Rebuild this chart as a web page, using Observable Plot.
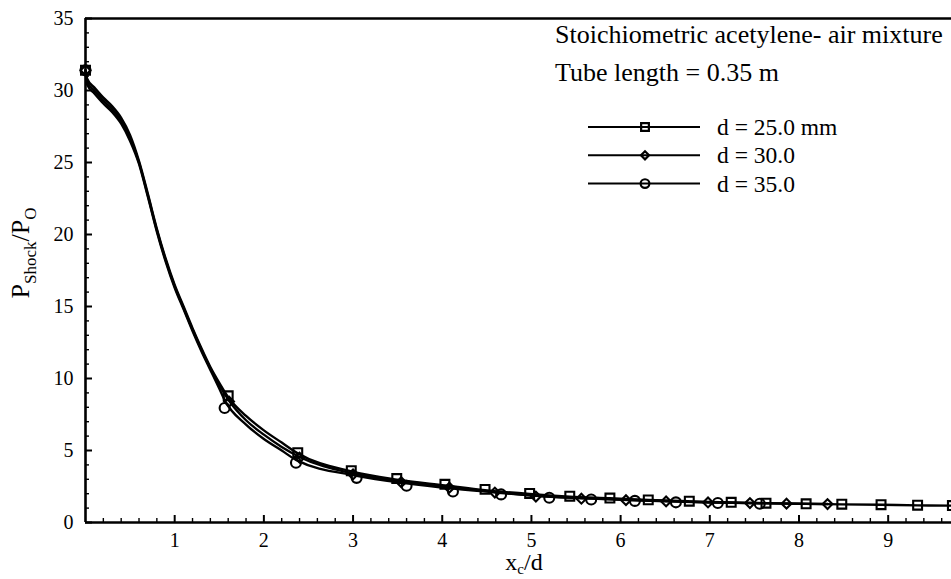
<!DOCTYPE html>
<html><head><meta charset="utf-8">
<script src="https://cdn.jsdelivr.net/npm/d3@7"></script>
<script src="https://cdn.jsdelivr.net/npm/@observablehq/plot@0.6"></script>
<style>body{margin:0;background:#fff}#chart{width:951px;height:579px;overflow:hidden}
#chart svg text{font-family:"Liberation Serif","DejaVu Serif",serif !important}</style>
</head><body><div id="chart"></div>
<script>
// ---------- data ----------
const seriesNames = ["d = 25.0 mm", "d = 30.0", "d = 35.0"];
const seriesSymbols = ["square", "diamond2", "circle"];
const annotationLines = ["Stoichiometric acetylene- air mixture", "Tube length = 0.35 m"];

// line traces
const lineX25 = [0, 0.02, 0.1, 0.2, 0.3, 0.4, 0.5, 0.6, 0.7, 0.8, 0.9, 1.0, 1.1, 1.2, 1.3, 1.4, 1.5, 1.6, 1.8, 2.0, 2.2, 2.38, 2.98, 3.49, 4.03, 4.48, 4.98, 5.43, 5.88, 6.31, 6.77, 7.24, 7.63, 8.08, 8.48, 8.92, 9.33, 9.72];
const lineY25 = [31.4, 30.8, 30.2, 29.5, 28.9, 28.1, 26.9, 25.1, 22.8, 20.4, 18.3, 16.5, 15.0, 13.5, 12.1, 10.8, 9.7, 8.7, 7.4, 6.4, 5.55, 4.8, 3.55, 2.98, 2.58, 2.25, 1.98, 1.8, 1.68, 1.56, 1.47, 1.39, 1.33, 1.29, 1.26, 1.23, 1.19, 1.17];
const lineX30 = [0, 0.02, 0.1, 0.2, 0.3, 0.4, 0.5, 0.6, 0.7, 0.8, 0.9, 1.0, 1.1, 1.2, 1.3, 1.4, 1.5, 1.61, 1.8, 2.0, 2.2, 2.40, 3.00, 3.54, 4.08, 4.59, 5.05, 5.56, 6.06, 6.51, 6.98, 7.45, 7.86, 8.32];
const lineY30 = [31.4, 30.6, 30.0, 29.3, 28.7, 27.9, 26.7, 25.0, 22.7, 20.3, 18.2, 16.4, 14.9, 13.4, 12.0, 10.7, 9.55, 8.45, 7.1, 6.1, 5.25, 4.55, 3.4, 2.85, 2.47, 2.12, 1.86, 1.7, 1.58, 1.49, 1.41, 1.36, 1.32, 1.28];
const lineX35 = [0, 0.02, 0.1, 0.2, 0.3, 0.4, 0.5, 0.6, 0.7, 0.8, 0.9, 1.0, 1.1, 1.2, 1.3, 1.4, 1.5, 1.56, 1.8, 2.0, 2.2, 2.36, 3.04, 3.60, 4.12, 4.66, 5.20, 5.67, 6.16, 6.62, 7.09, 7.56];
const lineY35 = [31.4, 30.4, 29.8, 29.1, 28.5, 27.7, 26.5, 24.9, 22.6, 20.2, 18.1, 16.3, 14.8, 13.3, 11.9, 10.6, 9.3, 8.5, 6.8, 5.8, 5.0, 4.35, 3.25, 2.72, 2.35, 2.05, 1.8, 1.66, 1.55, 1.45, 1.38, 1.33];

// symbol positions
const markX25 = [0, 1.60, 2.38, 2.98, 3.49, 4.03, 4.48, 4.98, 5.43, 5.88, 6.31, 6.77, 7.24, 7.63, 8.08, 8.48, 8.92, 9.33, 9.72];
const markY25 = [31.4, 8.8, 4.85, 3.6, 3.05, 2.65, 2.3, 2.02, 1.83, 1.7, 1.57, 1.48, 1.4, 1.34, 1.30, 1.27, 1.24, 1.20, 1.18];
const markX30 = [0, 1.61, 2.40, 3.00, 3.54, 4.08, 4.59, 5.05, 5.56, 6.06, 6.51, 6.98, 7.45, 7.86, 8.32];
const markY30 = [31.4, 8.4, 4.5, 3.35, 2.8, 2.42, 2.08, 1.8, 1.65, 1.55, 1.46, 1.39, 1.35, 1.31, 1.28];
const markX35 = [0, 1.56, 2.36, 3.04, 3.60, 4.12, 4.66, 5.20, 5.67, 6.16, 6.62, 7.09, 7.56];
const markY35 = [31.4, 7.95, 4.15, 3.1, 2.55, 2.15, 1.95, 1.72, 1.6, 1.5, 1.4, 1.35, 1.3];

const xTickLabels = [1, 2, 3, 4, 5, 6, 7, 8, 9];
const yTickLabels = [0, 5, 10, 15, 20, 25, 30, 35];

// ---------- build ----------
const zip = (xs, ys) => xs.map((x, i) => ({x, y: ys[i]}));
const lines = [zip(lineX25, lineY25), zip(lineX30, lineY30), zip(lineX35, lineY35)];
const marks = [zip(markX25, markY25), zip(markX30, markY30), zip(markX35, markY35)];

const W = 951, H = 579, mL = 85, mR = 0, mT = 18, mB = 57;
const xDom = [0, 9.71], yDom = [0, 35];
const pxX = (W - mL - mR) / (xDom[1] - xDom[0]);
const pxY = (H - mT - mB) / (yDom[1] - yDom[0]);
const xMinor = d3.range(1, 49).map(i => i * 0.2).filter(v => Math.abs(v - Math.round(v)) > 1e-6);
const yMinor = d3.range(1, 35).filter(v => v % 5 !== 0);
const font = "Liberation Serif, DejaVu Serif, serif";

const plot = Plot.plot({
  width: W, height: H,
  marginLeft: mL, marginRight: mR, marginTop: mT, marginBottom: mB,
  x: {domain: xDom},
  y: {domain: yDom},
  style: {fontFamily: font, background: "white", color: "black", overflow: "hidden"},
  marks: [
    // inward ticks
    Plot.ruleX(xTickLabels, {y1: 0, y2: 7 / pxY, strokeWidth: 2, stroke: "black"}),
    Plot.ruleX(xMinor, {y1: 0, y2: 4 / pxY, strokeWidth: 1.4, stroke: "black"}),
    Plot.ruleY(yTickLabels, {x1: 0, x2: 7 / pxX, strokeWidth: 2, stroke: "black"}),
    Plot.ruleY(yMinor, {x1: 0, x2: 4 / pxX, strokeWidth: 1.4, stroke: "black"}),
    // tick labels
    Plot.axisX({ticks: xTickLabels, tickSize: 0, tickPadding: 10, label: null, fontSize: 20, tickFormat: d => String(d)}),
    Plot.axisY({ticks: yTickLabels, tickSize: 0, tickPadding: 12, label: null, fontSize: 20, tickFormat: d => String(d)}),
    // frame
    Plot.ruleX([0], {stroke: "black", strokeWidth: 2.6}),
    Plot.ruleY([0, 35], {stroke: "black", strokeWidth: 2.6}),
    // curves
    ...lines.map(d => Plot.line(d, {x: "x", y: "y", curve: "monotone-x", stroke: "black", strokeWidth: 2.4})),
    // symbols
    ...marks.map((d, i) => Plot.dot(d, {x: "x", y: "y", symbol: seriesSymbols[i],
      r: i === 1 ? 4.4 : 5, fill: "none", stroke: "black", strokeWidth: 2.1}))
  ]
});

document.getElementById("chart").appendChild(plot);

// ---------- annotations, legend, axis titles ----------
const svg = d3.select(plot);
const g = svg.append("g").attr("font-family", font).attr("fill", "black").attr("text-anchor", "start");

annotationLines.forEach((t, i) => {
  g.append("text").attr("x", 555).attr("y", 43 + i * 38).attr("font-size", 26).text(t);
});

const symbolTypes = [d3.symbolSquare, d3.symbolDiamond2, d3.symbolCircle];
const symbolSizes = [60, 42, 60];
seriesNames.forEach((name, i) => {
  const y = 127 + i * 28.3;
  g.append("line").attr("x1", 588).attr("x2", 700).attr("y1", y).attr("y2", y)
    .attr("stroke", "black").attr("stroke-width", 2);
  g.append("path").attr("transform", `translate(645,${y})`)
    .attr("d", d3.symbol(symbolTypes[i], symbolSizes[i])())
    .attr("fill", "none").attr("stroke", "black").attr("stroke-width", 2.2);
  g.append("text").attr("x", 717).attr("y", y + 8).attr("font-size", 23.5).text(name);
});

// x title
const xt = g.append("text").attr("x", 524).attr("y", 570).attr("text-anchor", "middle").attr("font-size", 24);
xt.append("tspan").text("x");
xt.append("tspan").attr("font-size", 15).attr("dy", 4).text("c");
xt.append("tspan").attr("dy", -4).text("/d");

// y title
const yt = g.append("text").attr("transform", "translate(29,253) rotate(-90)").attr("text-anchor", "middle").attr("font-size", 26);
yt.append("tspan").text("P");
yt.append("tspan").attr("font-size", 17).attr("dy", 7).text("Shock");
yt.append("tspan").attr("dy", -7).text("/P");
yt.append("tspan").attr("font-size", 17).attr("dy", 7).text("O");
</script>
</body></html>
